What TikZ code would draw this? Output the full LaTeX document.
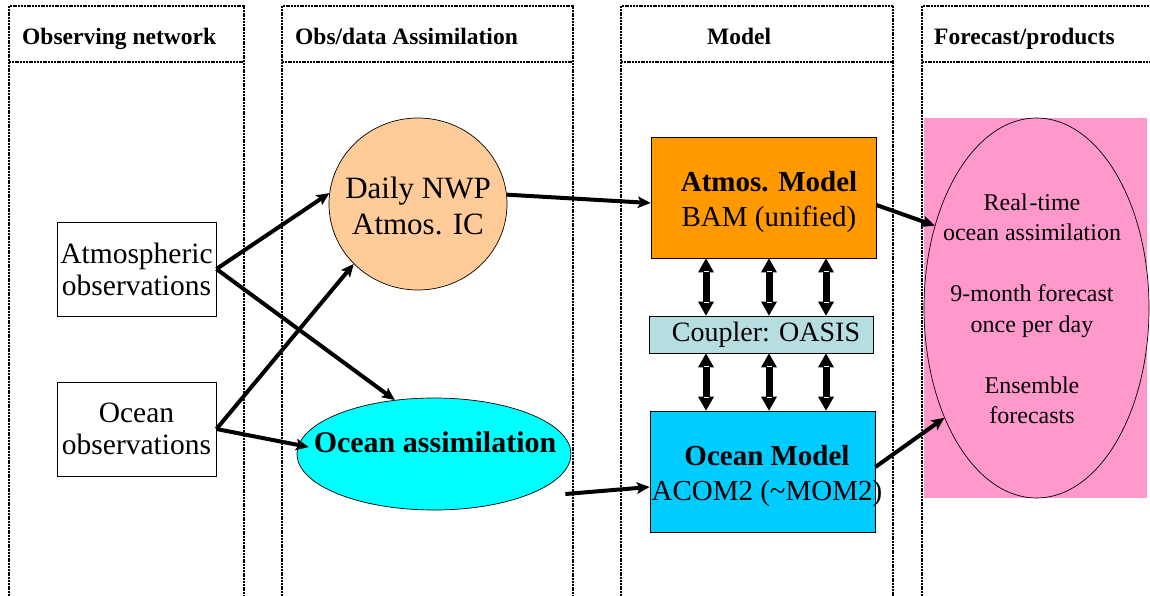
\documentclass[tikz,border=0pt]{standalone}
\usepackage{fontspec}
\setmainfont{Liberation Serif}
\usetikzlibrary{arrows.meta,shapes.geometric,calc}
\definecolor{peach}{HTML}{FFCC99}
\definecolor{atmorange}{HTML}{FF9900}
\definecolor{couplerc}{RGB}{182,222,224}
\definecolor{oceanblue}{HTML}{00CCFF}
\definecolor{assimcyan}{HTML}{00FFFF}
\definecolor{pinkc}{HTML}{FF99CC}
\begin{document}
\begin{tikzpicture}[x=1pt,y=-1pt,
  colline/.style={line width=1.2pt, dash pattern=on 2pt off 0.8pt},
  hdr/.style={font=\fontsize{23.5}{28}\selectfont\bfseries, inner sep=0pt, anchor=base west},
  obsbox/.style={draw, line width=0.9pt, minimum width=159, minimum height=94, inner sep=0pt,
    align=center, font=\fontsize{29.5}{32}\selectfont},
  modelbox/.style={draw, line width=0.8pt, minimum width=225, minimum height=121, inner sep=0pt},
  bigtext/.style={align=center, inner sep=0pt, font=\fontsize{29}{35}\selectfont},
  arr/.style={line width=4pt, -{Stealth[length=13pt,width=12pt,inset=3pt,line width=0pt]}},
  dblarr/.style={line width=7pt, {Triangle[length=14pt,width=16pt,line width=0pt]}-{Triangle[length=14pt,width=16pt,line width=0pt]}},
  whitemark/.style={draw=white, line width=1.5pt}
]
\useasboundingbox (0,0) rectangle (1150,596);

% columns
\draw[colline] (9,596) -- (9,6) -- (244,6) -- (244,596);
\draw[colline] (9,62) -- (244,62);
\draw[colline] (282,596) -- (282,6) -- (573,6) -- (573,596);
\draw[colline] (282,62) -- (573,62);
\draw[colline] (621,596) -- (621,6) -- (893,6) -- (893,596);
\draw[colline] (621,62) -- (893,62);
\draw[colline] (922,596) -- (922,6) -- (1155,6);
\draw[colline] (922,62) -- (1155,62);

% headers
\node[hdr] (h1) at (22,45) {Observing network};
\node[hdr] (h2) at (295,45) {Obs/data Assimilation};
\node[hdr] (h3) at (707,45) {Model};
\node[hdr] (h4) at (934,45) {Forecast/products};

% forecast products
\node[fill=pinkc, minimum width=223, minimum height=380, inner sep=0pt, anchor=north west] (fcbg) at (924,118) {};
\node[ellipse, draw, line width=0.7pt, fill=pinkc, minimum width=225, minimum height=380, inner sep=0pt] (fc) at (1036.5,308) {};
\node[align=center, inner sep=0pt, font=\fontsize{24}{30.5}\selectfont] (fctext) at (1032,309)
  {Real\kern2pt-time\\ocean assimilation\\[30.5pt]9-month forecast\\once per day\\[30.5pt]Ensemble\\forecasts};

% observing
\node[obsbox] (atmobs) at (136.5,269) {Atmospheric\\observations};
\node[obsbox] (ocobs) at (136.5,429) {Ocean\\observations};

% assimilation
\node[ellipse, draw, line width=0.7pt, fill=peach, minimum width=178, minimum height=172, inner sep=0pt] (nwp) at (418,204) {};
\node[align=center, inner sep=0pt, font=\fontsize{31}{36}\selectfont] (nwptext) at (418,206) {Daily NWP\\Atmos. IC};
\node[ellipse, draw, line width=0.7pt, fill=assimcyan, minimum width=274, minimum height=112, inner sep=0pt] (ocassim) at (434,454) {};
\node[inner sep=0pt, font=\fontsize{30}{35}\selectfont\bfseries] (ocassimtext) at (435,442) {Ocean assimilation};

% models
\node[modelbox, fill=atmorange] (atm) at (763.5,197.5) {};
\node[bigtext] (atmtext) at (769,202) {{\bfseries Atmos. Model}\\BAM (unified)};
\node[draw, line width=0.8pt, fill=couplerc, minimum width=224, minimum height=37, inner sep=0pt,
  font=\fontsize{28}{32}\selectfont] (cpl) at (761,334.5) {\hspace*{10pt}Coupler: OASIS};
\node[modelbox, fill=oceanblue] (ocm) at (762.5,471.5) {};
\node[bigtext] (ocmtext) at (767,476) {{\bfseries Ocean Model}\\ACOM2 (\textasciitilde MOM2)};

% coupling arrows
\foreach \dx [count=\i] in {-57.5,5.5,62.5} {
  \coordinate (ut\i) at ($(atm.south)+(\dx,0)$);
  \coordinate (ub\i) at (ut\i |- cpl.north);
  \coordinate (lt\i) at (ut\i |- cpl.south);
  \coordinate (lb\i) at (ut\i |- ocm.north);
  \draw[dblarr] (ut\i) -- (ub\i);
  \draw[dblarr] (lt\i) -- (lb\i);
  \draw[whitemark] ($(ut\i)+(-2.5,13)$) -- ($(ut\i)+(2.5,13)$);
  \draw[whitemark] ($(ub\i)+(-2.5,-13)$) -- ($(ub\i)+(2.5,-13)$);
  \draw[whitemark] ($(lt\i)+(-2.5,13)$) -- ($(lt\i)+(2.5,13)$);
  \draw[whitemark] ($(lb\i)+(-2.5,-13)$) -- ($(lb\i)+(2.5,-13)$);
}

% connectors
\coordinate (assimend) at ($(ocassim.west)+(12,-7)$);
\coordinate (assimout) at ($(ocassim.east)+(-6,40)$);
\draw[arr] (atmobs.east) -- (nwp.173);
\draw[arr] (atmobs.east) -- (ocassim.126);
\draw[arr] (ocobs.east) -- (nwp.223);
\draw[arr] (ocobs.east) -- (assimend);
\draw[arr] (nwp.6) -- ($(atm.west)+(0,5.5)$);
\draw[arr] (assimout) -- ($(ocm.west)+(0,15.5)$);
\draw[arr] ($(atm.east)+(0,7.5)$) -- (fc.141);
\draw[arr] ($(ocm.east)+(0,-4.5)$) -- (fc.230);
\end{tikzpicture}
\end{document}
